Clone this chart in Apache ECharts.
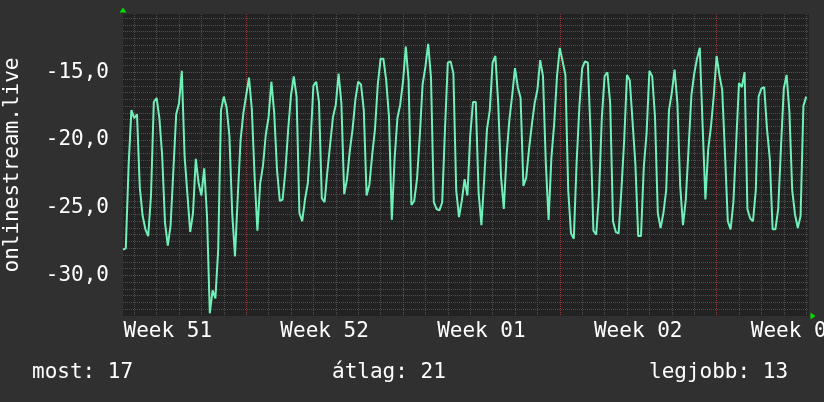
<!DOCTYPE html>
<html><head><meta charset="utf-8">
<script src="https://cdn.jsdelivr.net/npm/echarts@6/dist/echarts.min.js"></script>
<style>html,body{margin:0;padding:0;background:#303030;}#c{width:824px;height:402px;}</style>
</head><body><div id="c"></div>
<script>
// ---- data (3-hour steps, negated rank) ----
const yTitle = 'onlinestream.live';
const weekLabels = ['Week 51', 'Week 52', 'Week 01', 'Week 02', 'Week 03'];
const majorY = ['-30.0', '-25.0', '-20.0', '-15.0'];
const statLabels = ['most', 'átlag', 'legjobb'];
const statValues = [17, 21, 13];
const part1 = [-28.1,-28.0,-21.9,-17.8,-18.4,-18.1,-23.5,-25.6,-26.6,-27.1,-24.1,-17.2,-16.9,-18.4,-21.2,-26.1,-27.8,-26.3,-22.2,-18.1,-17.3,-14.9,-21.2,-24.0,-26.8,-25.4,-21.4,-23.2,-24.1,-22.1,-25.6,-32.8,-31.1,-31.7,-28.1,-17.8,-16.8,-17.6,-19.7,-25.4,-28.6,-24.1,-20.0,-18.0,-16.7,-15.4,-17.7,-22.7,-26.7,-23.2];
const part2 = [-21.9,-19.6,-18.3,-15.7,-18.0,-22.2,-24.5,-24.4,-22.3,-19.2,-16.7,-15.3,-16.8,-25.4,-26.0,-24.4,-23.2,-20.1,-16.0,-15.7,-17.2,-24.3,-24.6,-22.3,-20.3,-18.3,-17.4,-15.1,-17.3,-24.0,-22.9,-20.8,-19.2,-17.0,-15.7,-15.9,-17.8,-24.1,-23.3,-21.1,-19.2,-15.9,-14.0,-14.0,-15.6,-18.3,-25.9,-21.4,-18.4];
const part3 = [-17.4,-15.7,-13.1,-15.6,-24.8,-24.5,-22.9,-19.7,-15.9,-14.6,-12.9,-15.4,-24.6,-25.1,-25.2,-24.6,-19.2,-14.3,-14.2,-15.1,-23.7,-25.7,-24.5,-22.9,-24.1,-19.7,-17.2,-17.2,-23.9,-26.3,-22.9,-19.2,-17.8,-14.3,-13.8,-17.3,-22.7,-25.1,-21.1,-18.5,-16.7,-14.7,-16.1,-16.9,-23.4,-22.8,-20.7,-18.9,-17.3];
const part4 = [-16.3,-14.1,-15.3,-21.7,-25.9,-21.3,-18.8,-15.3,-13.2,-14.2,-15.2,-23.7,-26.9,-27.3,-21.7,-17.5,-14.7,-14.2,-14.3,-19.5,-26.7,-27.0,-24.0,-18.4,-15.3,-15.0,-17.3,-26.0,-26.8,-26.9,-23.7,-20.0,-15.2,-15.6,-18.7,-21.8,-27.1,-27.1,-22.0,-19.5,-14.9,-15.3,-18.3,-25.4,-26.5,-25.4,-23.7,-17.8,-16.5];
const part5 = [-14.8,-17.3,-23.4,-26.3,-24.4,-20.6,-16.7,-15.1,-14.0,-13.2,-18.9,-24.4,-20.7,-19.0,-16.7,-13.8,-15.2,-16.3,-21.0,-26.0,-26.6,-24.6,-20.2,-15.8,-16.1,-15.0,-25.1,-25.8,-26.0,-23.7,-16.8,-16.2,-16.1,-19.2,-21.4,-26.6,-26.6,-25.1,-20.5,-16.2,-15.2,-17.9,-23.7,-25.5,-26.5,-25.6,-17.5,-16.8,null];
const values = part1.concat(part2, part3, part4, part5);
const categories = values.map((_, i) => String(i));

// ---- layout constants ----
const FONT = 'DejaVu Sans Mono';
const Y_MIN = -33, Y_MAX = -10.7;
const STEPS_PER_DAY = 8, FIRST_DAY = 4, FIRST_LABEL = 16, LABEL_STEP = 56;
const MINOR = '#4e4e4e', MAJOR = '#9a3838';
const dayColors = [MINOR, MINOR, MINOR, MINOR, MINOR, MAJOR, MINOR];
// fine scaffold (0.1 steps) used only to place the horizontal grid lines
const yScaffold = Array.from({length: Math.round((Y_MAX - Y_MIN) * 10) + 1}, (_, i) => (Y_MIN + i * 0.1).toFixed(1));
const isMajor = (i) => majorY.indexOf(yScaffold[i]) >= 0;
const isMinor = (i) => i > 0 && i % 5 === 0 && !isMajor(i);

const scaffoldAxis = (fn, color, z) => ({
  type: 'category', data: yScaffold, boundaryGap: false, z: z,
  axisLine: {show: false}, axisTick: {show: false}, axisLabel: {show: false},
  splitLine: {show: true, interval: fn, lineStyle: {color: color, width: 1, type: [1, 1]}}
});

const chart = echarts.init(document.getElementById('c'), null, {renderer: 'canvas'});
chart.setOption({
  animation: false,
  backgroundColor: '#303030',
  title: statLabels.map((s, k) => ({
    text: s + ': ' + statValues[k],
    left: [32, 332, 649][k], top: 362, padding: 0,
    textStyle: {color: '#ffffff', fontFamily: FONT, fontSize: 21, fontWeight: 'normal'}
  })),
  grid: {left: 123, top: 14, width: 686, height: 302, show: true, backgroundColor: '#222222',
         borderWidth: 0, containLabel: false, outerBoundsMode: 'none'},
  xAxis: {
    type: 'category', data: categories, boundaryGap: false,
    axisLine: {show: true, onZero: false, lineStyle: {color: '#00dd00', opacity: 0},
               symbol: ['none', 'triangle'], symbolSize: [7, 5], symbolOffset: [0, 4]},
    axisTick: {show: false},
    axisLabel: {
      interval: (i) => (i - FIRST_LABEL) % LABEL_STEP === 0,
      formatter: (v, i) => weekLabels[Math.round((i - FIRST_LABEL) / LABEL_STEP)] || '',
      color: '#ffffff', fontFamily: FONT, fontSize: 21, margin: 5
    },
    splitLine: {show: true,
      interval: (i) => i >= FIRST_DAY && (i - FIRST_DAY) % STEPS_PER_DAY === 0,
      lineStyle: {color: dayColors, width: 1, type: [1, 1]}}
  },
  yAxis: [{
    type: 'value', min: Y_MIN, max: Y_MAX, interval: 0.5,
    name: yTitle, nameLocation: 'middle', nameGap: 100, nameRotate: 90,
    nameTextStyle: {color: '#ffffff', fontFamily: FONT, fontSize: 21},
    axisLine: {show: true, lineStyle: {color: '#00dd00', opacity: 0},
               symbol: ['none', 'triangle'], symbolSize: [7, 5], symbolOffset: [0, 4]},
    axisTick: {show: false},
    axisLabel: {
      formatter: (v) => Math.abs(v % 5) < 1e-9 ? v.toFixed(1).replace('.', ',') : '',
      color: '#ffffff', fontFamily: FONT, fontSize: 21, margin: 14
    },
    splitLine: {show: false}
  },
  scaffoldAxis(isMinor, MINOR, 0),
  scaffoldAxis(isMajor, MAJOR, 1)],
  series: [{
    type: 'line', data: values, showSymbol: false, symbol: 'none', z: 3,
    lineStyle: {color: '#70f0b8', width: 2}, connectNulls: false
  }]
});
</script></body></html>
